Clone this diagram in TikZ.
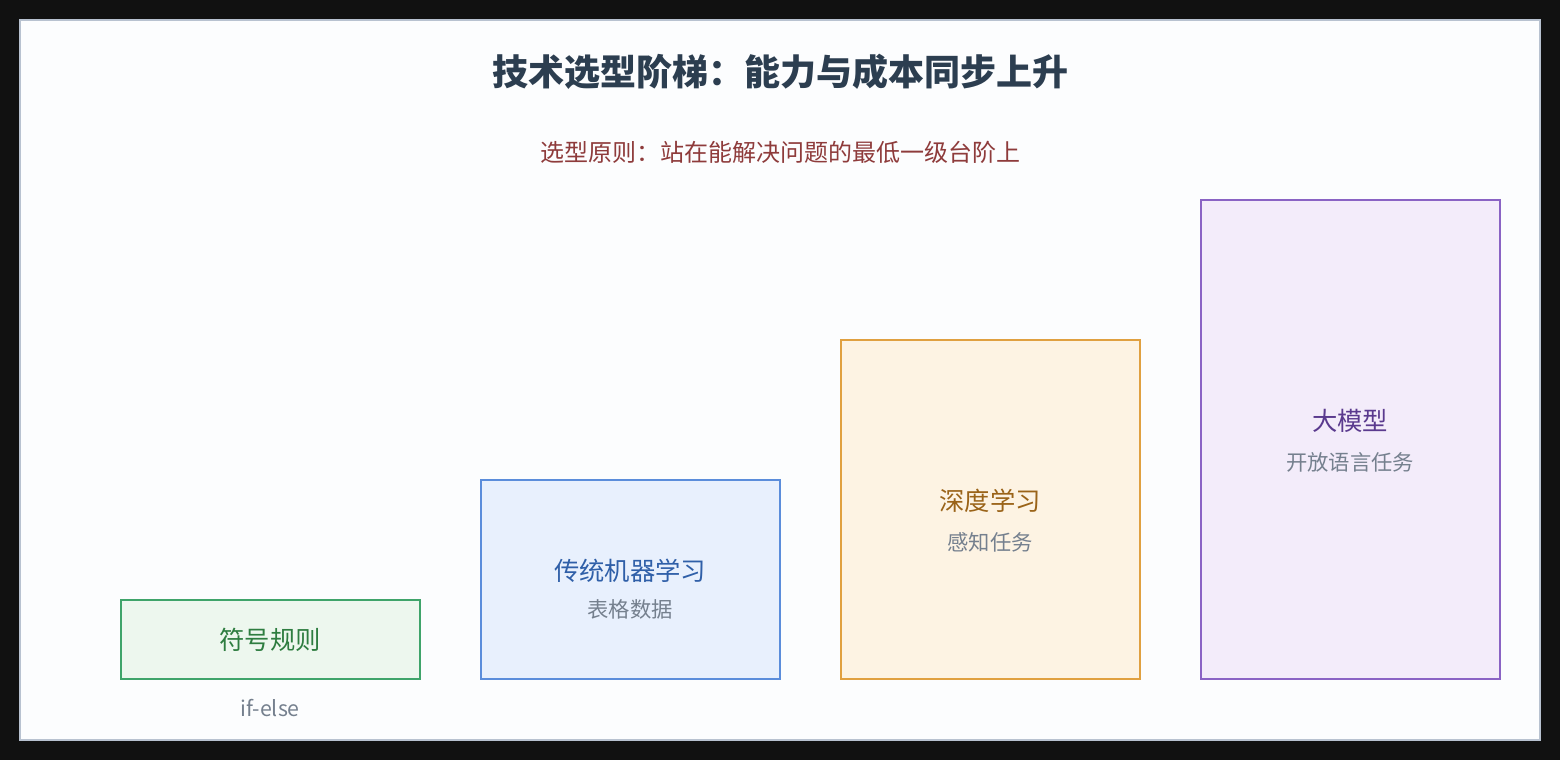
\documentclass[tikz,border=0pt]{standalone}
\usepackage{fontspec}
\setmainfont{Noto Sans CJK SC}
\usepackage{tikz}
\usetikzlibrary{positioning}
\definecolor{titlecol}{HTML}{2C3E50}
\definecolor{subcol}{HTML}{8E3B3B}
\definecolor{notecol}{HTML}{75808E}
\definecolor{greenline}{HTML}{3FA46A}
\definecolor{greenfill}{HTML}{EDF7EE}
\definecolor{greentext}{HTML}{2E7D40}
\definecolor{blueline}{HTML}{5B8DDB}
\definecolor{bluefill}{HTML}{E8F0FD}
\definecolor{bluetext}{HTML}{2F5FA8}
\definecolor{orangeline}{HTML}{E0A040}
\definecolor{orangefill}{HTML}{FDF3E3}
\definecolor{orangetext}{HTML}{9A6318}
\definecolor{purpleline}{HTML}{8A63C4}
\definecolor{purplefill}{HTML}{F3ECFA}
\definecolor{purpletext}{HTML}{5A3A8E}
\tikzset{
stepbox/.style={draw, line width=1.5pt, minimum width=224pt, anchor=south west, inner sep=0pt},
steplabel/.style={font=\fontsize{19}{21}\selectfont},
stepnote/.style={font=\fontsize{16}{18}\selectfont, text=notecol},
}

\begin{document}
\begin{tikzpicture}[x=0.75pt, y=-0.75pt]
        \fill[fill={rgb,255:red,17;green,17;blue,17}] (0,0) rectangle (1560,760);
        \draw[fill={rgb,255:red,252;green,253;blue,254}, draw={rgb,255:red,184;green,194;blue,208}, line width=1.5pt] (20,20) rectangle (1540,740);
        \node[font=\fontsize{27}{30}\selectfont\bfseries, text=titlecol] (title) at (780,72) {技术选型阶梯：能力与成本同步上升};
        \node[font=\fontsize{18}{20}\selectfont, text=subcol] (rule) at (780,152) {选型原则：站在能解决问题的最低一级台阶上};
        % steps
        \node[stepbox, draw=greenline, fill=greenfill, minimum height=59.5pt] (s_1) at (120,680) {};
        \node[stepbox, draw=blueline, fill=bluefill, minimum height=149.5pt] (s_2) at (480,680) {};
        \node[stepbox, draw=orangeline, fill=orangefill, minimum height=254.5pt] (s_3) at (840,680) {};
        \node[stepbox, draw=purpleline, fill=purplefill, minimum height=359.5pt] (s_4) at (1200,680) {};
        % labels
        \node[steplabel, text=greentext] (l_1) at (270,640) {符号规则};
        \node[stepnote] (n_1) at (270,708) {if-else};
        \node[steplabel, text=bluetext] (l_2) at (630,571) {传统机器学习};
        \node[stepnote] (n_2) at (630,609) {表格数据};
        \node[steplabel, text=orangetext] (l_3) at (990,501) {深度学习};
        \node[stepnote] (n_3) at (990,542) {感知任务};
        \node[steplabel, text=purpletext] (l_4) at (1350,421) {大模型};
        \node[stepnote] (n_4) at (1350,462) {开放语言任务};
\end{tikzpicture}
\end{document}
